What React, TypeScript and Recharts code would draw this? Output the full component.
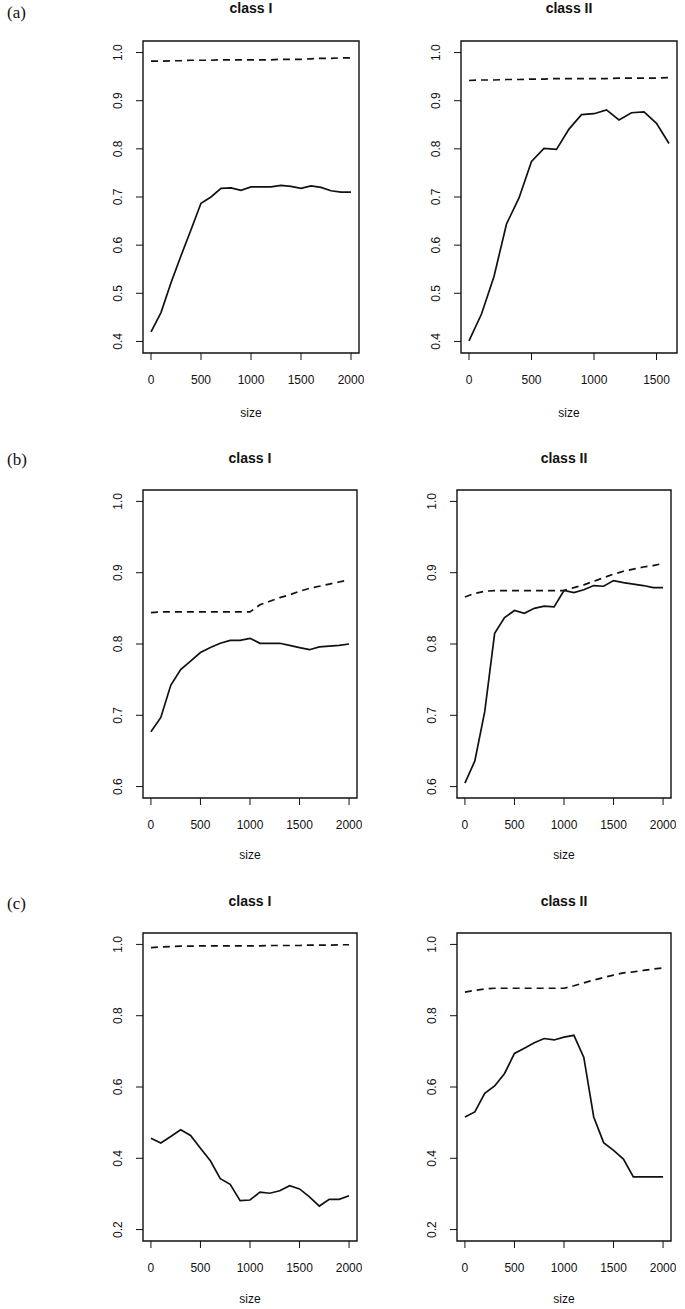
import React from "react";
import { LineChart, Line, XAxis, YAxis, ReferenceArea } from "recharts";

// ---------- data ----------
const sizes2000 = [0, 100, 200, 300, 400, 500, 600, 700, 800, 900, 1000, 1100, 1200, 1300, 1400, 1500, 1600, 1700, 1800, 1900, 2000];
const sizes1600 = [0, 100, 200, 300, 400, 500, 600, 700, 800, 900, 1000, 1100, 1200, 1300, 1400, 1500, 1600];

const aClassISolid = [0.42, 0.46, 0.522, 0.578, 0.632, 0.687, 0.7, 0.718, 0.719, 0.714, 0.721, 0.721, 0.721, 0.724, 0.722, 0.718, 0.723, 0.72, 0.713, 0.71, 0.71];
const aClassIDashed = [0.982, 0.982, 0.983, 0.983, 0.984, 0.984, 0.984, 0.985, 0.985, 0.985, 0.985, 0.985, 0.985, 0.986, 0.986, 0.986, 0.987, 0.988, 0.988, 0.989, 0.989];
const aClassIISolid = [0.401, 0.457, 0.535, 0.644, 0.698, 0.774, 0.801, 0.799, 0.841, 0.871, 0.873, 0.881, 0.86, 0.875, 0.877, 0.853, 0.811];
const aClassIIDashed = [0.942, 0.943, 0.943, 0.944, 0.944, 0.945, 0.945, 0.946, 0.946, 0.946, 0.946, 0.946, 0.947, 0.947, 0.947, 0.947, 0.948];

const bClassISolid = [0.677, 0.697, 0.742, 0.764, 0.776, 0.788, 0.795, 0.801, 0.805, 0.805, 0.808, 0.801, 0.801, 0.801, 0.798, 0.795, 0.792, 0.796, 0.797, 0.798, 0.8];
const bClassIDashed = [0.844, 0.845, 0.845, 0.845, 0.845, 0.845, 0.845, 0.845, 0.845, 0.845, 0.845, 0.855, 0.86, 0.865, 0.869, 0.874, 0.878, 0.881, 0.884, 0.887, 0.89];
const bClassIISolid = [0.605, 0.636, 0.705, 0.815, 0.837, 0.847, 0.843, 0.85, 0.853, 0.852, 0.875, 0.872, 0.876, 0.882, 0.881, 0.889, 0.886, 0.884, 0.882, 0.879, 0.879];
const bClassIIDashed = [0.866, 0.871, 0.874, 0.875, 0.875, 0.875, 0.875, 0.875, 0.875, 0.875, 0.875, 0.879, 0.883, 0.888, 0.893, 0.898, 0.902, 0.905, 0.908, 0.91, 0.913];

const cClassISolid = [0.456, 0.443, 0.461, 0.48, 0.464, 0.428, 0.393, 0.343, 0.327, 0.281, 0.283, 0.305, 0.302, 0.309, 0.323, 0.314, 0.292, 0.266, 0.285, 0.285, 0.295];
const cClassIDashed = [0.991, 0.993, 0.994, 0.995, 0.995, 0.996, 0.996, 0.996, 0.996, 0.996, 0.996, 0.996, 0.997, 0.997, 0.997, 0.997, 0.998, 0.998, 0.998, 0.999, 0.999];
const cClassIISolid = [0.516, 0.53, 0.582, 0.603, 0.638, 0.694, 0.709, 0.724, 0.736, 0.732, 0.74, 0.745, 0.683, 0.516, 0.444, 0.422, 0.398, 0.348, 0.348, 0.348, 0.348];
const cClassIIDashed = [0.866, 0.871, 0.875, 0.877, 0.877, 0.877, 0.877, 0.877, 0.877, 0.877, 0.877, 0.884, 0.892, 0.9, 0.907, 0.914, 0.92, 0.923, 0.927, 0.931, 0.934];

const xTicks2000 = [0, 500, 1000, 1500, 2000];
const xTicks1600 = [0, 500, 1000, 1500];
const yTicksA = [0.4, 0.5, 0.6, 0.7, 0.8, 0.9, 1.0];
const yTicksB = [0.6, 0.7, 0.8, 0.9, 1.0];
const yTicksC = [0.2, 0.4, 0.6, 0.8, 1.0];

const xDomain2000: [number, number] = [-80, 2080];
const xDomain1600: [number, number] = [-64, 1664];
const yDomainA: [number, number] = [0.376, 1.024];
const yDomainB: [number, number] = [0.584, 1.016];
const yDomainC: [number, number] = [0.168, 1.032];

// ---------- layout ----------
const SANS = '"Liberation Sans", Arial, Helvetica, sans-serif';
const SERIF = '"Liberation Serif", "Times New Roman", serif';
const Y_W = 60;
const X_H = 40;
const PAD_T = 5;
const PAD_R = 5;

type PanelProps = {
  title: string;
  box: { L: number; T: number; R: number; B: number };
  sizes: number[];
  solid: number[];
  dashed: number[];
  xTicks: number[];
  xDomain: [number, number];
  yTicks: number[];
  yDomain: [number, number];
  sizeLabelY: number;
  titleY: number;
};

const YTick = (props: any) => {
  const { x, y, payload } = props;
  return (
    <text
      x={x}
      y={y}
      transform={`rotate(-90, ${x}, ${y})`}
      textAnchor="middle"
      dominantBaseline="central"
      fontSize={12}
      fontFamily={SANS}
      fill="#111"
    >
      {Number(payload.value).toFixed(1)}
    </text>
  );
};

function Panel(p: PanelProps) {
  const { L, T, R, B } = p.box;
  const data = p.sizes.map((s, i) => ({ size: s, solid: p.solid[i], dashed: p.dashed[i] }));
  const w = R - L + Y_W + PAD_R;
  const h = B - T + PAD_T + X_H;
  const cx = (L + R) / 2;
  return (
    <>
      <div
        style={{
          position: "absolute",
          left: cx,
          top: p.titleY,
          transform: "translate(-50%, -50%)",
          fontFamily: SANS,
          fontWeight: "bold",
          fontSize: 14,
          lineHeight: "14px",
          whiteSpace: "nowrap",
          color: "#111",
        }}
      >
        {p.title}
      </div>
      <div style={{ position: "absolute", left: L - Y_W, top: T - PAD_T, width: w, height: h }}>
        <LineChart width={w} height={h} data={data} margin={{ top: PAD_T, right: PAD_R, bottom: 0, left: 0 }}>
          <XAxis
            dataKey="size"
            type="number"
            domain={p.xDomain}
            ticks={p.xTicks}
            allowDataOverflow
            height={X_H}
            axisLine={false}
            tickLine={{ stroke: "#111", strokeWidth: 1 }}
            tickSize={7}
            tickMargin={15}
            tick={{ fontSize: 12, fontFamily: SANS, fill: "#111" }}
          />
          <YAxis
            type="number"
            domain={p.yDomain}
            ticks={p.yTicks}
            allowDataOverflow
            width={Y_W}
            axisLine={false}
            tickLine={{ stroke: "#111", strokeWidth: 1 }}
            tickSize={7}
            tickMargin={18}
            tick={<YTick />}
          />
          <ReferenceArea
            x1={p.xDomain[0]}
            x2={p.xDomain[1]}
            y1={p.yDomain[0]}
            y2={p.yDomain[1]}
            fill="none"
            fillOpacity={0}
            stroke="#111"
            strokeWidth={1.4}
            ifOverflow="visible"
          />
          <Line
            dataKey="dashed"
            type="linear"
            stroke="#111"
            strokeWidth={1.7}
            strokeDasharray="7 5"
            dot={false}
            activeDot={false}
            isAnimationActive={false}
          />
          <Line
            dataKey="solid"
            type="linear"
            stroke="#111"
            strokeWidth={1.7}
            dot={false}
            activeDot={false}
            isAnimationActive={false}
          />
        </LineChart>
      </div>
      <div
        style={{
          position: "absolute",
          left: cx,
          top: p.sizeLabelY,
          transform: "translate(-50%, -50%)",
          fontFamily: SANS,
          fontSize: 12,
          lineHeight: "12px",
          color: "#111",
        }}
      >
        size
      </div>
    </>
  );
}

function Letter({ text, y }: { text: string; y: number }) {
  return (
    <div
      style={{
        position: "absolute",
        left: 7,
        top: y,
        transform: "translateY(-50%)",
        fontFamily: SERIF,
        fontSize: 17,
        lineHeight: "17px",
        color: "#111",
      }}
    >
      {text}
    </div>
  );
}

export default function App() {
  return (
    <div style={{ position: "absolute", left: 0, top: 0, width: 685, height: 1309, background: "#fff", overflow: "hidden" }}>
      <Letter text="(a)" y={12} />
      <Letter text="(b)" y={459} />
      <Letter text="(c)" y={903} />

      <Panel
        title="class I"
        box={{ L: 143, T: 41, R: 359, B: 353 }}
        sizes={sizes2000}
        solid={aClassISolid}
        dashed={aClassIDashed}
        xTicks={xTicks2000}
        xDomain={xDomain2000}
        yTicks={yTicksA}
        yDomain={yDomainA}
        titleY={8}
        sizeLabelY={413}
      />
      <Panel
        title="class II"
        box={{ L: 461, T: 41, R: 677, B: 353 }}
        sizes={sizes1600}
        solid={aClassIISolid}
        dashed={aClassIIDashed}
        xTicks={xTicks1600}
        xDomain={xDomain1600}
        yTicks={yTicksA}
        yDomain={yDomainA}
        titleY={8}
        sizeLabelY={413}
      />

      <Panel
        title="class I"
        box={{ L: 143, T: 490, R: 357, B: 798 }}
        sizes={sizes2000}
        solid={bClassISolid}
        dashed={bClassIDashed}
        xTicks={xTicks2000}
        xDomain={xDomain2000}
        yTicks={yTicksB}
        yDomain={yDomainB}
        titleY={458}
        sizeLabelY={855}
      />
      <Panel
        title="class II"
        box={{ L: 457, T: 490, R: 671, B: 798 }}
        sizes={sizes2000}
        solid={bClassIISolid}
        dashed={bClassIIDashed}
        xTicks={xTicks2000}
        xDomain={xDomain2000}
        yTicks={yTicksB}
        yDomain={yDomainB}
        titleY={458}
        sizeLabelY={855}
      />

      <Panel
        title="class I"
        box={{ L: 143, T: 933, R: 357, B: 1241 }}
        sizes={sizes2000}
        solid={cClassISolid}
        dashed={cClassIDashed}
        xTicks={xTicks2000}
        xDomain={xDomain2000}
        yTicks={yTicksC}
        yDomain={yDomainC}
        titleY={901}
        sizeLabelY={1299}
      />
      <Panel
        title="class II"
        box={{ L: 457, T: 933, R: 671, B: 1241 }}
        sizes={sizes2000}
        solid={cClassIISolid}
        dashed={cClassIIDashed}
        xTicks={xTicks2000}
        xDomain={xDomain2000}
        yTicks={yTicksC}
        yDomain={yDomainC}
        titleY={901}
        sizeLabelY={1299}
      />
    </div>
  );
}
